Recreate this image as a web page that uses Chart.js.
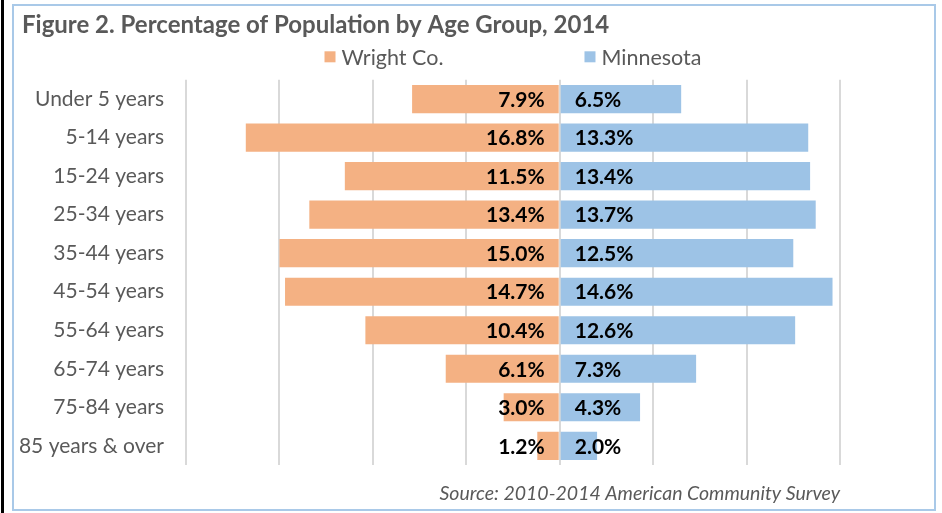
<!DOCTYPE html>
<html>
<head>
<meta charset="utf-8">
<script src="https://cdn.jsdelivr.net/npm/chart.js@4"></script>
<style>
  body { margin: 0; background: #fff; }
  #wrap { position: relative; width: 942px; height: 513px; overflow: hidden; }
  #frame { position: absolute; left: 12px; top: 4px; width: 920px; height: 503px; border: 2px solid #a9c9e8; }
  #edge { position: absolute; left: 1px; top: 0; width: 3px; height: 513px; background: #000; }
  canvas { position: absolute; left: 0; top: 0; }
</style>
</head>
<body>
<div id="wrap">
  <div id="edge"></div>
  <div id="frame"></div>
  <canvas id="grafico" width="942" height="513"></canvas>
</div>
<script>
// datos
var grupos = ['Under 5 years', '5-14 years', '15-24 years', '25-34 years', '35-44 years',
  '45-54 years', '55-64 years', '65-74 years', '75-84 years', '85 years & over'];
var wright = [7.9, 16.8, 11.5, 13.4, 15.0, 14.7, 10.4, 6.1, 3.0, 1.2];
var minnesota = [6.5, 13.3, 13.4, 13.7, 12.5, 14.6, 12.6, 7.3, 4.3, 2.0];

var gris = '#595959';
var fuente = 'Lato, "Open Sans", sans-serif';

// etiquetas de valor junto al eje central
var etiquetas = {
  id: 'etiquetas',
  afterDatasetsDraw: function (chart) {
    var ctx = chart.ctx;
    var cero = chart.scales.x.getPixelForValue(0);
    ctx.save();
    ctx.font = 'bold 21px ' + fuente;
    ctx.fillStyle = '#000';
    ctx.textBaseline = 'middle';
    chart.data.datasets.forEach(function (ds, i) {
      var meta = chart.getDatasetMeta(i);
      meta.data.forEach(function (bar, j) {
        var txt = Math.abs(ds.data[j]).toFixed(1) + '%';
        if (i === 0) {
          ctx.textAlign = 'right';
          ctx.fillText(txt, cero - 15, bar.y + 1);
        } else {
          ctx.textAlign = 'left';
          ctx.fillText(txt, cero + 15, bar.y + 1);
        }
      });
    });
    ctx.restore();
  }
};

// leyenda estilo Excel, con separacion amplia
var leyenda = {
  id: 'leyenda',
  afterDraw: function (chart) {
    var ctx = chart.ctx;
    var area = chart.chartArea;
    var caja = 11, hueco = 6, sep = 141;
    ctx.save();
    ctx.font = '21.5px ' + fuente;
    ctx.textBaseline = 'middle';
    ctx.textAlign = 'left';
    var items = chart.data.datasets.map(function (ds) {
      return { texto: ds.label, color: ds.backgroundColor, ancho: caja + hueco + ctx.measureText(ds.label).width };
    });
    var total = items[0].ancho + sep + items[1].ancho;
    var x = (area.left + area.right) / 2 - total / 2;
    var y = area.top - 23;
    items.forEach(function (it) {
      ctx.fillStyle = it.color;
      ctx.fillRect(x, y - caja / 2, caja, caja);
      ctx.fillStyle = gris;
      ctx.fillText(it.texto, x + caja + hueco, y + 1);
      x += it.ancho + sep;
    });
    ctx.restore();
  }
};

// el titulo va un poco mas a la derecha que las etiquetas del eje
var sangria = {
  id: 'sangria',
  afterLayout: function (chart) {
    if (chart.titleBlock) chart.titleBlock.left = 22;
  }
};

new Chart(document.getElementById('grafico').getContext('2d'), {
  type: 'bar',
  data: {
    labels: grupos,
    datasets: [{
      label: 'Wright Co.',
      data: wright.map(function (v) { return -v; }),
      backgroundColor: '#F4B183',
      barPercentage: 0.73,
      categoryPercentage: 1
    }, {
      label: 'Minnesota',
      data: minnesota,
      backgroundColor: '#9DC3E6',
      barPercentage: 0.73,
      categoryPercentage: 1
    }]
  },
  options: {
    indexAxis: 'y',
    responsive: false,
    animation: false,
    layout: { padding: { left: 12, right: 102, top: 0, bottom: 8 } },
    scales: {
      x: {
        stacked: true,
        min: -20,
        max: 15,
        ticks: { display: false, stepSize: 5 },
        grid: { color: '#d9d9d9', lineWidth: 2, drawTicks: false },
        border: { display: false }
      },
      y: {
        stacked: true,
        afterFit: function (scale) { scale.width = 174; },
        ticks: { color: gris, font: { family: fuente, size: 21 }, padding: 22 },
        grid: { display: false, drawTicks: false },
        border: { display: false }
      }
    },
    plugins: {
      legend: { display: false },
      title: {
        display: true,
        text: 'Figure 2. Percentage of Population by Age Group, 2014',
        align: 'start',
        color: gris,
        font: { family: fuente, size: 24, weight: 'bold' },
        padding: { top: 11, bottom: 40 }
      },
      subtitle: {
        display: true,
        position: 'bottom',
        align: 'end',
        fullSize: false,
        text: 'Source: 2010-2014 American Community Survey',
        color: gris,
        font: { family: fuente, size: 19.5, style: 'italic' },
        padding: { top: 16.5, bottom: 0 }
      },
      tooltip: {
        callbacks: {
          label: function (c) { return c.dataset.label + ': ' + Math.abs(c.raw).toFixed(1) + '%'; }
        }
      }
    }
  },
  plugins: [etiquetas, leyenda, sangria]
});
</script>
</body>
</html>
